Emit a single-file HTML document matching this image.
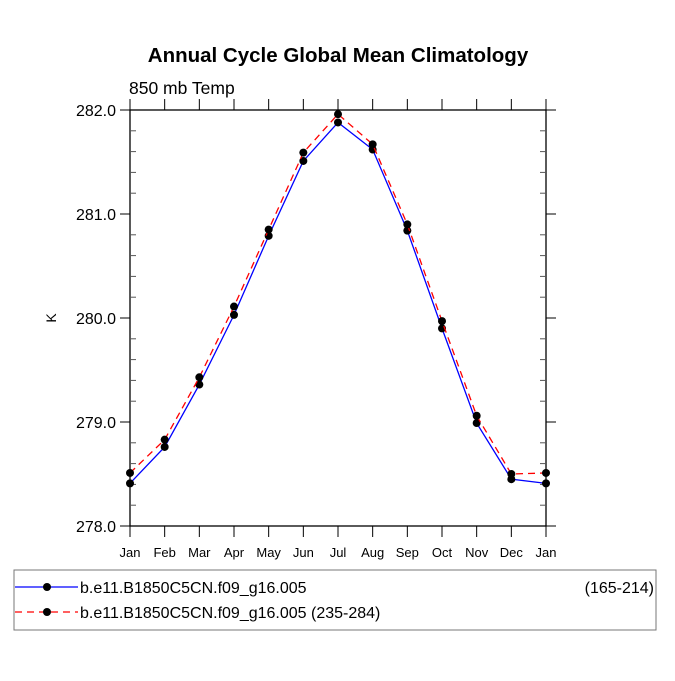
<!DOCTYPE html>
<html><head><meta charset="utf-8"><style>
body{margin:0;background:#fff;}
svg text{font-family:"Liberation Sans",Arial,sans-serif;}
</style></head><body>
<svg id="chart" width="675" height="676" xmlns="http://www.w3.org/2000/svg">
<rect width="675" height="676" fill="#fff"/>
<text x="338" y="62" text-anchor="middle" font-size="20.5" font-weight="bold">Annual Cycle Global Mean Climatology</text>
<text x="129" y="94" font-size="17.5">850 mb Temp</text>
<text x="56" y="318" font-size="14" text-anchor="middle" transform="rotate(-90 56 318)">K</text>
<g id="axes"></g>
<g id="series"></g>
<g>
<rect x="14" y="570" width="642" height="60" fill="none" stroke="#777" stroke-width="1"/>
<line x1="15" y1="587" x2="78" y2="587" stroke="#00f" stroke-width="1.3"/>
<circle cx="47" cy="587" r="4" fill="#000"/>
<text x="80" y="593" font-size="16">b.e11.B1850C5CN.f09_g16.005</text>
<text x="654" y="593" font-size="16" text-anchor="end">(165-214)</text>
<line x1="15" y1="612" x2="78" y2="612" stroke="#f00" stroke-width="1.3" stroke-dasharray="7,5"/>
<circle cx="47" cy="612" r="4" fill="#000"/>
<text x="80" y="618" font-size="16">b.e11.B1850C5CN.f09_g16.005 (235-284)</text>
</g>
</svg>
<script>
const months = ["Jan","Feb","Mar","Apr","May","Jun","Jul","Aug","Sep","Oct","Nov","Dec","Jan"];
const series1 = [278.41,278.76,279.36,280.03,280.79,281.51,281.88,281.62,280.84,279.90,278.99,278.45,278.41];
const series2 = [278.51,278.83,279.43,280.11,280.85,281.59,281.96,281.67,280.90,279.97,279.06,278.50,278.51];
const yTicks = [278.0,279.0,280.0,281.0,282.0];
const yTickLabels = ["278.0","279.0","280.0","281.0","282.0"];
const NS="http://www.w3.org/2000/svg";
const L=130,R=546,T=110,B=526,ymin=278,ymax=282;
const xs=i=>L+(R-L)*i/(months.length-1);
const ys=v=>B-(v-ymin)/(ymax-ymin)*(B-T);
function mk(tag,attrs,parent){const e=document.createElementNS(NS,tag);for(const k in attrs)e.setAttribute(k,attrs[k]);parent.appendChild(e);return e;}
const ax=document.getElementById('axes');
const frame=mk('rect',{x:L,y:T,width:R-L,height:B-T,fill:'none',stroke:'#000','stroke-width':1.3},ax);


months.forEach((m,i)=>{
  const x=xs(i);
  mk('line',{x1:x,y1:B,x2:x,y2:B+11,stroke:'#000','stroke-width':1},ax);
  mk('line',{x1:x,y1:T,x2:x,y2:T-11,stroke:'#000','stroke-width':1},ax);
  const t=mk('text',{x:x,y:B+31,'text-anchor':'middle','font-size':13},ax);
  t.textContent=m;
  
  
});
for(let v=ymin;v<=ymax+1e-6;v+=0.2){
  const y=ys(v);
  const major=Math.abs(v-Math.round(v))<1e-6;
  if(major){
    mk('line',{x1:L-10,y1:y,x2:L,y2:y,stroke:'#000','stroke-width':1},ax);
    mk('line',{x1:R,y1:y,x2:R+10,y2:y,stroke:'#000','stroke-width':1},ax);
  }else{
    mk('line',{x1:L,y1:y,x2:L+6,y2:y,stroke:'#555','stroke-width':1},ax);
    mk('line',{x1:R-6,y1:y,x2:R,y2:y,stroke:'#555','stroke-width':1},ax);
  }
}
yTicks.forEach((v,i)=>{
  const t=mk('text',{x:L-14,y:ys(v)+6,'text-anchor':'end','font-size':16},ax);
  t.textContent=yTickLabels[i];
  
  
});
const sg=document.getElementById('series');
function drawSeries(vals,color,dash,name){
  const p=mk('polyline',{points:vals.map((v,i)=>xs(i)+','+ys(v)).join(' '),fill:'none',stroke:color,'stroke-width':1.3},sg);
  if(dash)p.setAttribute('stroke-dasharray','7,5');
  
  
  vals.forEach((v,i)=>{
    const c=mk('circle',{cx:xs(i),cy:ys(v),r:4,fill:'#000'},sg);
    
    
  });
}
drawSeries(series1,'#00f',false,'series-165-214');
drawSeries(series2,'#f00',true,'series-235-284');
</script>
</body></html>
